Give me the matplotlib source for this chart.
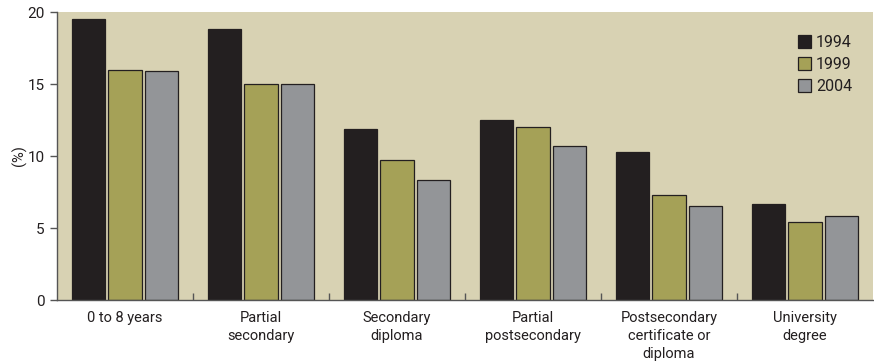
import matplotlib
matplotlib.use('Agg')
import matplotlib.pyplot as plt
import numpy as np

plt.rcParams['font.family'] = ['Roboto', 'DejaVu Sans']

categories = ['0 to 8 years', 'Partial\nsecondary', 'Secondary\ndiploma',
              'Partial\npostsecondary', 'Postsecondary\ncertificate or\ndiploma',
              'University\ndegree']
years = ['1994', '1999', '2004']
pct_1994 = [19.5, 18.8, 11.9, 12.5, 10.3, 6.7]
pct_1999 = [16.0, 15.0, 9.7, 12.0, 7.3, 5.4]
pct_2004 = [15.9, 15.0, 8.3, 10.7, 6.5, 5.8]
colors = ['#231f20', '#a5a157', '#939598']

x = np.arange(len(categories))
w = 0.243
step = 0.266

fig = plt.figure(figsize=(8.74, 3.63), dpi=100)
ax = fig.add_axes([57/874, 63/363, 816/874, 288/363])
ax.set_facecolor('#d8d2b3')

for i, (vals, c, lab) in enumerate(zip([pct_1994, pct_1999, pct_2004], colors, years)):
    ax.bar(x + (i - 1) * step, vals, width=w, color=c, edgecolor='#231f20',
           linewidth=0.9, label=lab, zorder=2)

ax.set_xlim(-0.5, len(categories) - 0.5)
ax.set_ylim(0, 20)
ax.set_yticks([0, 5, 10, 15, 20])
ax.set_xticks(x)
ax.set_xticklabels(categories, fontsize=10.5, linespacing=1.35, color='#231f20')
ax.set_xticks(x[:-1] + 0.5, minor=True)
ax.tick_params(axis='x', which='major', length=0, pad=8)
ax.tick_params(axis='x', which='minor', direction='in', length=5, color='#555555', width=1)
ax.tick_params(axis='y', direction='out', length=5, color='#555555', width=1,
               labelsize=11, labelcolor='#231f20', pad=4)
ax.set_ylabel('(%)', fontsize=10.5, color='#231f20')
ax.yaxis.set_label_coords(-0.037, 0.5)

for side in ['top', 'right']:
    ax.spines[side].set_visible(False)
for side in ['left', 'bottom']:
    ax.spines[side].set_color('#555555')
    ax.spines[side].set_linewidth(1)

leg = ax.legend(loc='upper right', frameon=False, fontsize=11.5, handlelength=0.85,
                handleheight=0.85, handletextpad=0.3, labelspacing=0.45,
                bbox_to_anchor=(0.992, 0.97))
for t in leg.get_texts():
    t.set_color('#231f20')

fig.savefig('out.png', dpi=100)
